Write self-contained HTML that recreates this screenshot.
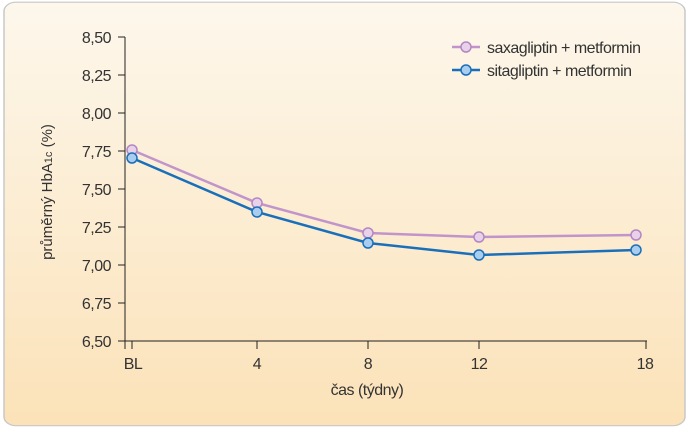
<!DOCTYPE html>
<html><head><meta charset="utf-8"><style>
body{margin:0;width:688px;height:432px;background:#fff;overflow:hidden}
</style></head><body>
<svg width="688" height="432" xmlns="http://www.w3.org/2000/svg" font-family="Liberation Sans, sans-serif">
<defs><linearGradient id="g" x1="0" y1="0" x2="0" y2="1">
<stop offset="0" stop-color="#fdf7ec"/><stop offset="1" stop-color="#fbe2b8"/></linearGradient></defs>
<rect x="4" y="3" width="681" height="565" rx="12" fill="url(#g)" stroke="#c8c8c8" stroke-width="1.5" transform="scale(1,0.7495)"/>
<g stroke="#222" stroke-width="1" fill="none">
<line x1="125" y1="37" x2="125" y2="349"/>
<line x1="125" y1="341" x2="647" y2="341"/>
<path d="M118 37h7M118 75h7M118 113h7M118 151h7M118 189h7M118 227h7M118 265h7M118 303h7M118 341h7"/>
<path d="M132 341v8M257 341v8M368 341v8M479 341v8M646 341v8"/>
</g>
<g font-size="16" fill="#333" text-anchor="end" letter-spacing="-0.5">
<text x="111" y="43">8,50</text><text x="111" y="81">8,25</text><text x="111" y="119">8,00</text>
<text x="111" y="157">7,75</text><text x="111" y="195">7,50</text><text x="111" y="233">7,25</text>
<text x="111" y="271">7,00</text><text x="111" y="309">6,75</text><text x="111" y="347">6,50</text>
</g>
<g font-size="16" fill="#333" text-anchor="middle" letter-spacing="-0.5">
<text x="133" y="369">BL</text><text x="257" y="369">4</text><text x="368" y="369">8</text>
<text x="479" y="369">12</text><text x="645" y="369">18</text>
<text x="367" y="395">čas (týdny)</text>
</g>
<text transform="translate(52,192) rotate(-90)" font-size="15" fill="#333" text-anchor="middle">průměrný HbA<tspan font-size="11">1c</tspan> (%)</text>
<polyline points="132,150 257,203 368,233 479,237 636,235" fill="none" stroke="#c195cc" stroke-width="2.5"/>
<polyline points="132,158 257,212 368,243 479,255 636,250" fill="none" stroke="#1a6fba" stroke-width="2.5"/>
<g fill="#e8d2ea" stroke="#b486c2" stroke-width="1.5">
<circle cx="132" cy="150" r="5"/><circle cx="257" cy="203" r="5"/><circle cx="368" cy="233" r="5"/><circle cx="479" cy="237" r="5"/><circle cx="636" cy="235" r="5"/>
</g>
<g fill="#a9cdef" stroke="#1a6fba" stroke-width="1.5">
<circle cx="132" cy="158" r="5"/><circle cx="257" cy="212" r="5"/><circle cx="368" cy="243" r="5"/><circle cx="479" cy="255" r="5"/><circle cx="636" cy="250" r="5"/>
</g>
<line x1="452" y1="47" x2="480" y2="47" stroke="#c195cc" stroke-width="2.5"/>
<line x1="452" y1="70" x2="480" y2="70" stroke="#1a6fba" stroke-width="2.5"/>
<circle cx="466" cy="47" r="5" fill="#e8d2ea" stroke="#b486c2" stroke-width="1.5"/>
<circle cx="466" cy="70" r="5" fill="#a9cdef" stroke="#1a6fba" stroke-width="1.5"/>
<g font-size="16" fill="#333" letter-spacing="-0.5">
<text x="487" y="53">saxagliptin + metformin</text>
<text x="487" y="76">sitagliptin + metformin</text>
</g>
</svg>
</body></html>
